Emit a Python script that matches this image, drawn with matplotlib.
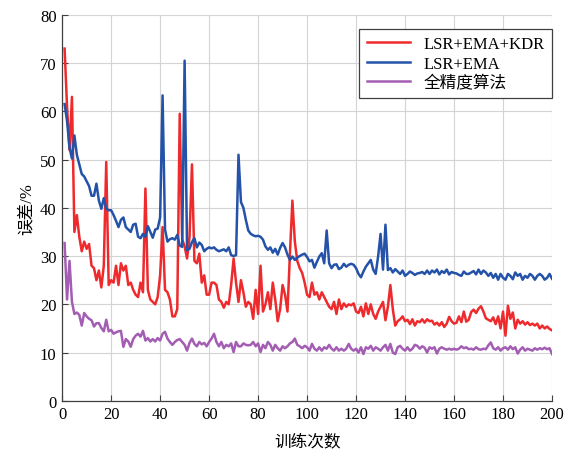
import numpy as np
import matplotlib
matplotlib.use("Agg")
import matplotlib.pyplot as plt

plt.rcParams['font.family'] = ['Liberation Serif', 'Noto Sans CJK SC']

# iterations 1..200
iters = np.arange(1, 201)

err_kdr = [
    73, 61, 52, 63, 35, 38.5, 34, 31, 33, 31.5,
    32.5, 28, 27.5, 25, 27, 23.5, 28, 49.5, 24, 25,
    24.5, 28, 24, 28.5, 27, 28, 24, 24.5, 23, 22,
    21.5, 24.5, 22.5, 44, 23, 21, 20.5, 20, 21.5, 26,
    36, 23, 22.5, 21, 17.5, 17.5, 19, 59.5, 33.5, 32,
    29.5, 34, 49, 29, 28.5, 30.5, 24.5, 26, 22, 22,
    24.5, 24.5, 24, 21, 20.5, 19.3, 20.5, 20, 24, 29.5,
    24.5, 20.5, 25, 22.5, 19.5, 20.5, 20, 17, 23, 18,
    28, 18.5, 20, 22.5, 19, 24.5, 21, 16.5, 19, 24,
    22, 18.5, 30.5, 41.5, 33, 29, 27.5, 26.5, 24.5, 22,
    21.5, 24.5, 22, 22.5, 21, 22.5, 21.5, 20.5, 19.5, 19,
    20.5, 18, 21, 19, 20.2, 19.5, 20, 19.8, 20.2, 18.5,
    18.2, 19.5, 17.5, 20.2, 18, 20, 18, 17, 18.5, 19.5,
    20.5, 16.7, 19.5, 24, 19, 15.6, 16.5, 16.9, 17.5, 16.5,
    16.8, 15.9, 16.9, 15.6, 16.5, 16.3, 16.9, 16.2, 16.9, 16.5,
    16.6, 15.8, 16.2, 15.6, 16.3, 15.3, 16, 17.4, 16.5, 16,
    16.2, 17.5, 16.3, 18.5, 16.4, 16.8, 18.4, 18.9, 18.2, 19.1,
    19.6, 18.5, 17.1, 16.8, 16.5, 17.3, 15.9, 17.5, 15, 18.5,
    13.5, 19.7, 17, 18.3, 15, 16.8, 16, 16.5, 15.8, 16.3,
    15.7, 16, 15.6, 16, 15, 15.6, 15, 15.4, 14.9, 14.6,
]

err_ema = [
    61.5, 58, 52.5, 50.2, 55, 51, 49, 47, 46.5, 45.5,
    44.5, 42.5, 42.5, 45, 41.5, 39.8, 42, 39.8, 39.5, 39.5,
    38.5, 37.3, 36, 37.5, 38, 36, 35.5, 35, 36.5, 36.7,
    34, 33.7, 34.6, 34, 36.2, 35, 33.8, 35.5, 35.7, 38,
    63.3, 35.5, 33, 33.5, 33.7, 33.4, 34.4, 32.2, 31.9, 70.5,
    31.2, 31.5, 32.9, 33.7, 31.8, 32.8, 32.3, 31, 31.5, 31.8,
    31.6, 31.8, 31.3, 31, 31.2, 31.4, 31, 31.8, 30.2, 30,
    30.2, 51, 41.2, 40, 37.5, 35.3, 34.6, 34.3, 34.1, 34.2,
    34, 33.4, 32, 31.3, 31.8, 30.7, 31.5, 30.3, 31.7, 32.7,
    31.8, 30.3, 29.2, 29.9, 29.2, 29.7, 30, 30.3, 30.5, 29.8,
    28.9, 29.2, 27.6, 28.8, 29.9, 30.6, 28.5, 35.3, 28.5, 27.5,
    28.2, 28.3, 27.3, 27.6, 28.4, 27.8, 28.2, 28.4, 28.2, 27.5,
    26.3, 25.6, 26.8, 27.8, 28.5, 29.2, 27.2, 26.3, 29.9, 34.6,
    27.2, 36.5, 27.1, 27.5, 26.6, 27.3, 26.8, 26.3, 27, 25.9,
    26.3, 26.8, 26.5, 26.1, 26.4, 26.5, 26.7, 26.3, 27, 26.3,
    27, 26.6, 27.2, 26.2, 26.9, 26.5, 27.2, 26.2, 26.7, 26.5,
    26.4, 26.1, 25.9, 26.8, 26.3, 26.3, 26.6, 26.9, 26.2, 27.2,
    26.3, 27, 26.6, 25.9, 26.5, 25.5, 26.3, 25.1, 26.3, 25.5,
    25.1, 26.3, 25.9, 25.2, 26.6, 25.9, 26.3, 25.1, 25.9, 25.5,
    26.3, 25.9, 25.1, 25.9, 26.3, 25.9, 25.1, 25.5, 26.3, 25.3,
]

err_full = [
    32.7, 21, 29, 20.5, 18, 18.3, 17.8, 15.6, 18.2, 17.5,
    17, 16.7, 15.4, 16.1, 16.1, 15.1, 14.4, 16.8, 14.4, 14.7,
    13.9, 14.2, 14.4, 14.5, 11.2, 12.8, 12.3, 11.2, 12.8, 13.5,
    13.9, 13.3, 14.5, 12.5, 13, 12.3, 12.8, 12.3, 13, 12.5,
    13.9, 14.3, 12.9, 12.2, 11.6, 12.2, 12.6, 12.8, 12.2, 11.6,
    10.4, 12, 12.9, 11.8, 11.3, 12.2, 11.7, 12, 11.3, 12.2,
    12.9, 13.9, 12.2, 11.3, 12.2, 10.9, 11.6, 11.3, 11.9, 10.1,
    12.2, 11.3, 11.3, 11.9, 11.6, 11.5, 11.6, 12.2, 11.3, 11.9,
    10.1, 11.6, 10.9, 12.2, 11.6, 10.4, 11.6, 10.9, 10.4, 11.3,
    10.9, 11.3, 11.9, 12.2, 12.9, 11.6, 11.3, 10.9, 11.4, 11.1,
    10.4, 11.8, 10.8, 10.4, 11.1, 10.4, 11.1, 10.8, 11.6, 10.8,
    10.4, 11.1, 10.4, 10.8, 10.4, 10.8, 11.8, 10.8, 10.4, 10.8,
    10, 11.1, 9.7, 11.1, 10.8, 11.4, 10.4, 11.1, 10.8, 10.4,
    11.1, 11.6, 10.4, 11.8, 10, 9.7, 11.1, 11.4, 10.8, 10.4,
    11.1, 10.4, 10.8, 11.6, 11.4, 10.8, 11.3, 11, 10, 11.1,
    10.8, 11.1, 9.8, 10.8, 11.1, 10.8, 10.6, 10.8, 10.6, 10.8,
    10.6, 10.8, 11.3, 10.9, 11.1, 10.7, 10.8, 10.6, 11.1, 10.7,
    10.6, 10.8, 10.7, 11.5, 12.1, 10.9, 10.6, 11.1, 10.4, 10.9,
    11.1, 10.6, 11.3, 10.7, 11.1, 9.8, 10.6, 11.1, 10.4, 10.8,
    10.6, 10.4, 10.9, 10.6, 10.9, 10.7, 11, 10.7, 10.9, 9.7,
]

labels = ['LSR+EMA+KDR', 'LSR+EMA', '全精度算法']
colors = ['#ee2a2d', '#2352a8', '#a35db3']

fig = plt.figure(figsize=(5.65, 4.52), dpi=100)
ax = fig.add_axes([0.110, 0.111, 0.867, 0.854])

for vals, lab, col in zip([err_kdr, err_ema, err_full], labels, colors):
    ax.plot(iters, vals, color=col, lw=1.8, label=lab)

ax.set_xlim(0, 200)
ax.set_ylim(0, 80)
ax.set_xticks(np.arange(0, 201, 20))
ax.set_yticks(np.arange(0, 81, 10))
ax.grid(True, color='#d4d4d4', lw=0.8)
ax.set_axisbelow(True)
for s in ['top', 'right']:
    ax.spines[s].set_visible(False)
for s in ['left', 'bottom']:
    ax.spines[s].set_color('#404040')
    ax.spines[s].set_linewidth(0.9)
ax.tick_params(direction='in', length=4, color='#404040', labelsize=12, pad=4)

ax.set_xlabel('训练次数', fontsize=12, labelpad=8)
ax.set_ylabel('误差/%', fontsize=12, labelpad=4)

leg = ax.legend(loc='upper right', bbox_to_anchor=(1.0, 0.964), borderaxespad=0,
                fontsize=12, fancybox=False, framealpha=1, edgecolor='#404040',
                handlelength=2.6, borderpad=0.45, labelspacing=0.2,
                handletextpad=0.8)
leg.get_frame().set_linewidth(0.9)

fig.savefig('out.png', dpi=100)
